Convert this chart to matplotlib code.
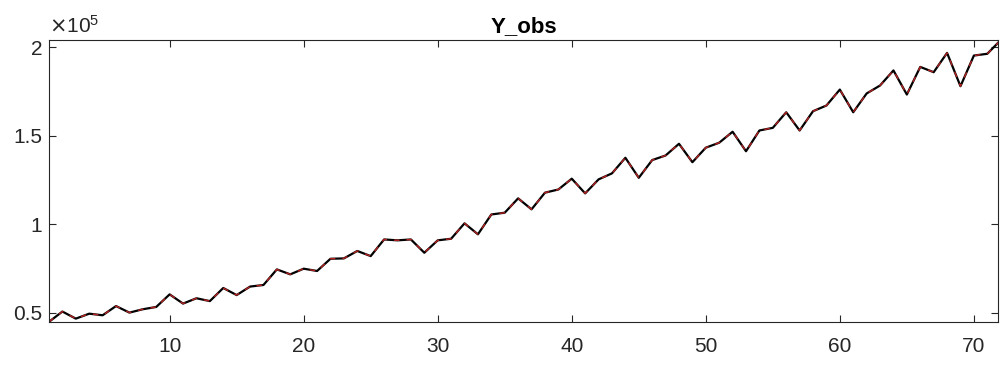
import numpy as np
import matplotlib
matplotlib.use("Agg")
import matplotlib.pyplot as plt
from matplotlib.ticker import FuncFormatter

t = np.arange(1, 73)
y_obs = [0.450, 0.508, 0.468, 0.496, 0.487, 0.539, 0.502, 0.521, 0.534, 0.605,
         0.553, 0.583, 0.567, 0.641, 0.601, 0.649, 0.658, 0.746, 0.718, 0.750,
         0.737, 0.806, 0.808, 0.850, 0.821, 0.915, 0.910, 0.915, 0.840, 0.910,
         0.919, 1.006, 0.944, 1.056, 1.066, 1.147, 1.085, 1.179, 1.197, 1.258,
         1.175, 1.254, 1.288, 1.376, 1.263, 1.363, 1.389, 1.455, 1.351, 1.433,
         1.461, 1.523, 1.413, 1.530, 1.545, 1.633, 1.530, 1.639, 1.671, 1.761,
         1.633, 1.739, 1.784, 1.869, 1.733, 1.889, 1.859, 1.968, 1.780, 1.953,
         1.963, 2.040]
y_obs = np.array(y_obs) * 1e5
y_fit = y_obs.copy()  # fitted series sits on top of the observations

xticks = [10, 20, 30, 40, 50, 60, 70]
yticks = [0.5e5, 1e5, 1.5e5, 2e5]

plt.rcParams['font.family'] = ['Liberation Sans', 'DejaVu Sans']

fig = plt.figure(figsize=(10, 3.67), dpi=100)
ax = fig.add_axes([0.049, 0.1226, 0.949, 0.768])

ax.plot(t, y_obs, color='black', lw=1.6)
ax.plot(t, y_fit, color='#ff3030', lw=1.0, ls='--', dashes=(4, 5), alpha=0.7)

ax.set_xlim(1, 71.8)
ax.set_ylim(44900, 204000)
ax.set_xticks(xticks)
ax.set_yticks(yticks)
ax.yaxis.set_major_formatter(FuncFormatter(lambda v, p: '%g' % (v / 1e5)))

ax.tick_params(direction='in', top=True, right=True, length=5, width=0.8,
               labelsize=15, labelcolor='#262626', color='#262626')
ax.tick_params(axis='x', pad=11)
ax.tick_params(axis='y', pad=5)
for s in ax.spines.values():
    s.set_color('#262626')
    s.set_linewidth(0.8)

ax.set_title('Y_obs', fontsize=16, fontweight='bold', color='black', pad=6)
ax.text(0.0, 1.012, r'$\times\mathregular{10^{5}}$', transform=ax.transAxes,
        fontsize=15, color='#262626', ha='left', va='bottom')

fig.savefig('out.png', dpi=100)
